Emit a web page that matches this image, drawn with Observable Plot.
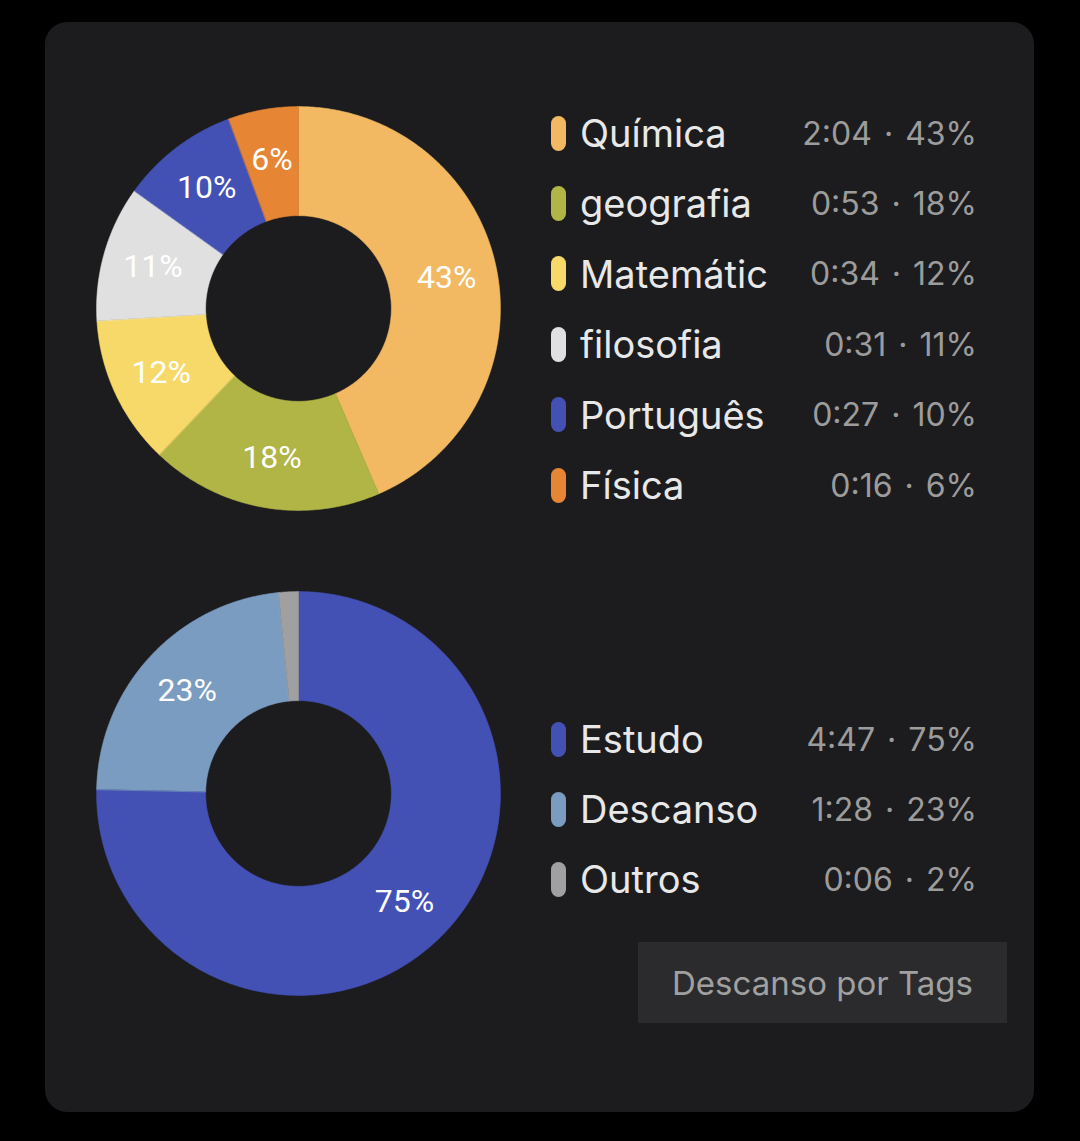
<!DOCTYPE html>
<html>
<head>
<meta charset="utf-8">
<script src="https://cdn.jsdelivr.net/npm/d3@7"></script>
<script src="https://cdn.jsdelivr.net/npm/@observablehq/plot@0.6"></script>
<style>
  html, body { margin: 0; padding: 0; background: #000; }
  body { width: 1080px; height: 1141px; position: relative; overflow: hidden; font-family: Inter, "Noto Sans", sans-serif; }
  #card { position: absolute; left: 45px; top: 22px; width: 989px; height: 1090px; background: #1c1c1e; border-radius: 22px; }
  .donut { position: absolute; }
  .row { position: absolute; left: 551px; width: 426px; height: 40px; display: flex; align-items: center; }
  .pill { width: 15px; height: 35px; border-radius: 8px; margin-right: 14px; flex: none; }
  .name { flex: 1; color: #e8e8e8; white-space: nowrap; font-size: 38px; }
  .val { color: #9c9c9c; white-space: nowrap; font-size: 32px; }
  .dot { display: inline-block; margin: 0 3px; }
  #btn { position: absolute; left: 638px; top: 942px; width: 369px; height: 81px; background: #2b2b2d; color: #a0a0a0; font-size: 33px; display: flex; align-items: center; justify-content: center; }
</style>
</head>
<body>
<div id="card"></div>
<div id="d1" class="donut" style="left:86px; top:96px;"></div>
<div id="d2" class="donut" style="left:86px; top:581px;"></div>
<div id="legend1"></div>
<div id="legend2"></div>
<div id="btn">Descanso por Tags</div>
<script>
// ---- Data ----
const subjects = ["Química", "geografia", "Matemátic", "filosofia", "Português", "Física"];
const subjectMinutes = [124, 53, 34, 31, 27, 16];
const subjectTimes = ["2:04", "0:53", "0:34", "0:31", "0:27", "0:16"];
const subjectPct = [43, 18, 12, 11, 10, 6];
const subjectColors = ["#f2b862", "#b0b545", "#f7d96a", "#e0e0e0", "#4351b5", "#e68533"];

const activities = ["Estudo", "Descanso", "Outros"];
const activityMinutes = [287, 88, 6];
const activityTimes = ["4:47", "1:28", "0:06"];
const activityPct = [75, 23, 2];
const activityColors = ["#4351b5", "#7a9cc0", "#a0a0a0"];

// ---- Donut helper ----
const OUTER = 1, INNER = 0.46, LABEL_R = 0.75;
function donut(names, values, pcts, colors) {
  const pie = d3.pie().sort(null).value(d => d.value);
  const rows = names.map((n, i) => ({name: n, value: values[i], pct: pcts[i]}));
  const arcs = pie(rows);
  const poly = [];
  const labels = [];
  for (const a of arcs) {
    const n = Math.max(2, Math.ceil((a.endAngle - a.startAngle) / 0.01));
    for (let k = 0; k <= n; k++) {
      const t = a.startAngle + (a.endAngle - a.startAngle) * k / n;
      poly.push({name: a.data.name, x: OUTER * Math.sin(t), y: OUTER * Math.cos(t)});
    }
    for (let k = n; k >= 0; k--) {
      const t = a.startAngle + (a.endAngle - a.startAngle) * k / n;
      poly.push({name: a.data.name, x: INNER * Math.sin(t), y: INNER * Math.cos(t)});
    }
    const m = (a.startAngle + a.endAngle) / 2;
    if (a.data.pct >= 5) labels.push({x: LABEL_R * Math.sin(m), y: LABEL_R * Math.cos(m), text: a.data.pct + "%"});
  }
  return Plot.plot({
    width: 424, height: 424, margin: 0,
    x: {domain: [-1.05, 1.05], axis: null},
    y: {domain: [-1.05, 1.05], axis: null},
    color: {type: "ordinal", domain: names, range: colors},
    style: {background: "transparent", overflow: "visible"},
    marks: [
      Plot.line(poly, {x: "x", y: "y", z: "name", fill: "name", stroke: "name", strokeWidth: 0.6, curve: "linear-closed"}),
      Plot.text(labels, {x: "x", y: "y", text: "text", fill: "#ffffff", fontSize: 32, fontWeight: 400, fontFamily: "Roboto, sans-serif"})
    ]
  });
}

document.getElementById("d1").append(donut(subjects, subjectMinutes, subjectPct, subjectColors));
document.getElementById("d2").append(donut(activities, activityMinutes, activityPct, activityColors));

function legend(el, names, times, pcts, colors, firstCenter, step) {
  names.forEach((n, i) => {
    const r = document.createElement("div");
    r.className = "row";
    r.style.top = (firstCenter + i * step - 20) + "px";
    r.innerHTML = `<div class="pill" style="background:${colors[i]}"></div><div class="name">${n}</div><div class="val">${times[i]} <span class="dot">·</span> ${pcts[i]}%</div>`;
    el.append(r);
  });
}
legend(document.getElementById("legend1"), subjects, subjectTimes, subjectPct, subjectColors, 133, 70.4);
legend(document.getElementById("legend2"), activities, activityTimes, activityPct, activityColors, 739, 70);
</script>
</body>
</html>
